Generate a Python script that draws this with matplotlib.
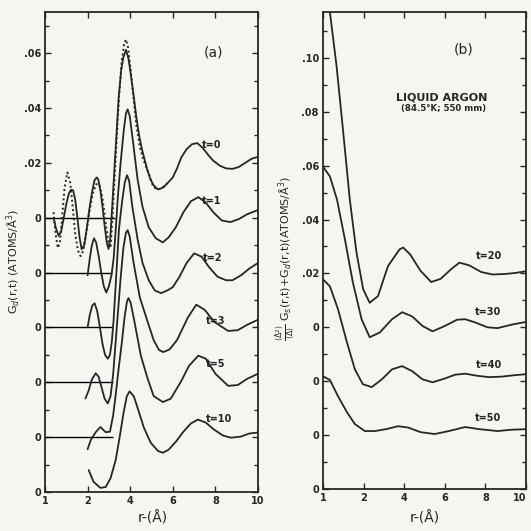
import matplotlib.pyplot as plt
from matplotlib.ticker import MultipleLocator

paper = '#f7f5ef'
ink = '#262626'

# ---------------- panel (a): G_d(r,t), curves shifted down by 0.02 each
times_a = ['t=0', 't=1', 't=2', 't=3', 't=5', 't=10']
offsets_a = [0.0, -0.02, -0.04, -0.06, -0.08, -0.10]

r_a0 = [0.40, 0.52, 0.64, 0.76, 0.88, 1.00, 1.12, 1.22, 1.32, 1.42, 1.52, 1.62, 1.72,
        1.84, 1.96, 2.08, 2.20, 2.32, 2.42, 2.50, 2.60, 2.70, 2.80, 2.90, 2.98, 3.06,
        3.18, 3.32, 3.46, 3.58, 3.68, 3.80, 3.92, 4.05, 4.17, 4.30, 4.42, 4.55, 4.65,
        4.80, 4.95, 5.10, 5.30, 5.55, 5.80, 6.00, 6.20, 6.40, 6.65, 6.90, 7.15, 7.40,
        7.65, 7.90, 8.20, 8.50, 8.80, 9.10, 9.40, 9.70, 10.0]
g_a0 = [0.000, -0.004, -0.0066, -0.005, 0.000, 0.005, 0.0088, 0.0102, 0.0100, 0.0065,
        0.000, -0.007, -0.0115, -0.010, -0.004, 0.003, 0.009, 0.0135, 0.0147, 0.0140,
        0.010, 0.004, -0.003, -0.009, -0.0114, -0.008, 0.0073, 0.0257, 0.044, 0.054,
        0.0585, 0.0612, 0.058, 0.051, 0.044, 0.036, 0.030, 0.025, 0.022, 0.0175, 0.014,
        0.0118, 0.0103, 0.011, 0.013, 0.0147, 0.018, 0.022, 0.025, 0.0268, 0.0272,
        0.0255, 0.023, 0.0208, 0.019, 0.018, 0.0178, 0.0185, 0.020, 0.0215, 0.0222]

# dotted t=0 curve
r_a0d = [0.40, 0.50, 0.60, 0.70, 0.80, 0.92, 1.05, 1.18, 1.30, 1.42, 1.55, 1.67, 1.80,
         1.95, 2.10, 2.25, 2.40, 2.55, 2.70, 2.85, 2.98, 3.08, 3.18, 3.32, 3.46, 3.60,
         3.72, 3.80, 3.90, 4.02, 4.15, 4.30, 4.45, 4.60, 4.75, 4.90, 5.05, 5.20, 5.40,
         5.60, 5.80]
g_a0d = [0.002, -0.006, -0.011, -0.009, 0.000, 0.011, 0.0165, 0.013, 0.004, -0.006,
         -0.012, -0.014, -0.012, -0.005, 0.003, 0.009, 0.0122, 0.0122, 0.007, -0.002,
         -0.009, -0.011, 0.002, 0.022, 0.042, 0.057, 0.0635, 0.065, 0.062, 0.054, 0.044,
         0.033, 0.026, 0.0215, 0.0185, 0.0155, 0.012, 0.0105, 0.0105, 0.0115, 0.013]

r_a1 = [2.00, 2.10, 2.20, 2.30, 2.40, 2.52, 2.64, 2.76, 2.88, 3.00, 3.12, 3.22, 3.32,
        3.42, 3.55, 3.70, 3.80, 3.88, 3.98, 4.12, 4.35, 4.58, 4.87, 5.20, 5.53, 5.80,
        6.14, 6.50, 6.85, 7.20, 7.55, 7.90, 8.30, 8.70, 9.10, 9.50, 10.0]
g_a1 = [-0.001, 0.005, 0.010, 0.0125, 0.011, 0.006, 0.000, -0.005, -0.0073, -0.005,
        -0.001, 0.005, 0.0154, 0.0275, 0.040, 0.052, 0.058, 0.0595, 0.057, 0.0484,
        0.0338, 0.0239, 0.0165, 0.0125, 0.011, 0.0128, 0.0165, 0.022, 0.026, 0.0275,
        0.0255, 0.022, 0.019, 0.0184, 0.0195, 0.0213, 0.0228]

r_a2 = [2.00, 2.10, 2.22, 2.33, 2.45, 2.58, 2.70, 2.82, 2.95, 3.05, 3.14, 3.22, 3.30,
        3.38, 3.47, 3.56, 3.65, 3.75, 3.85, 3.95, 4.10, 4.35, 4.58, 4.87, 5.15, 5.45,
        5.75, 6.00, 6.30, 6.65, 7.00, 7.35, 7.70, 8.10, 8.50, 8.80, 9.20, 9.60, 10.0]
g_a2 = [0.000, 0.0045, 0.0080, 0.0088, 0.006, 0.000, -0.006, -0.010, -0.0114, -0.010,
        -0.005, 0.0026, 0.013, 0.0235, 0.0356, 0.042, 0.0477, 0.053, 0.0555, 0.0535,
        0.044, 0.032, 0.0235, 0.0172, 0.0135, 0.0125, 0.0135, 0.0147, 0.0183, 0.0235,
        0.027, 0.0258, 0.022, 0.0185, 0.0172, 0.0172, 0.019, 0.0215, 0.0235]

r_a3 = [1.90, 2.05, 2.20, 2.38, 2.52, 2.66, 2.80, 2.95, 3.08, 3.20, 3.30, 3.42, 3.55,
        3.68, 3.80, 3.88, 3.98, 4.15, 4.45, 4.80, 5.10, 5.35, 5.55, 5.85, 6.20, 6.70,
        7.10, 7.50, 7.95, 8.60, 9.05, 9.50, 10.0]
g_a3 = [-0.0059, -0.003, 0.001, 0.0033, 0.002, -0.002, -0.006, -0.0077, -0.005, 0.003,
        0.013, 0.025, 0.038, 0.049, 0.0545, 0.0555, 0.053, 0.044, 0.031, 0.0225, 0.0154,
        0.0118, 0.011, 0.012, 0.0154, 0.0235, 0.0283, 0.0264, 0.022, 0.0187, 0.019,
        0.021, 0.0228]

r_a5 = [2.00, 2.15, 2.38, 2.60, 2.85, 3.05, 3.20, 3.32, 3.45, 3.60, 3.74, 3.85, 3.92,
        4.02, 4.17, 4.50, 4.82, 5.10, 5.53, 5.90, 6.38, 6.76, 7.20, 7.55, 8.00, 8.60,
        9.05, 9.50, 10.0]
g_a5 = [-0.0044, -0.001, 0.0018, 0.0037, 0.0018, 0.002, 0.008, 0.0155, 0.0245, 0.034,
        0.044, 0.0495, 0.0507, 0.049, 0.0433, 0.0297, 0.0213, 0.015, 0.0128, 0.014,
        0.0202, 0.026, 0.0297, 0.0286, 0.0231, 0.0187, 0.019, 0.0213, 0.0231]

r_a10 = [2.05, 2.28, 2.60, 2.85, 3.08, 3.32, 3.50, 3.70, 3.84, 3.97, 4.17, 4.40, 4.64,
         4.96, 5.30, 5.53, 5.80, 6.14, 6.50, 6.85, 7.18, 7.55, 7.93, 8.35, 8.73, 9.20,
         9.58, 10.0]
g_a10 = [0.008, 0.0037, 0.0015, 0.0018, 0.0051, 0.0117, 0.0198, 0.0294, 0.0349, 0.0367,
         0.0349, 0.0294, 0.0235, 0.018, 0.015, 0.0143, 0.0154, 0.0183, 0.022, 0.025,
         0.0264, 0.0253, 0.0228, 0.0206, 0.0198, 0.0202, 0.0213, 0.0217]

curves_a = [(r_a0, g_a0), (r_a1, g_a1), (r_a2, g_a2), (r_a3, g_a3), (r_a5, g_a5), (r_a10, g_a10)]

# ---------------- panel (b): <..> G_s + G_d
times_b = ['t=20', 't=30', 't=40', 't=50']
offsets_b = [0.0, -0.02, -0.04, -0.06]

r_b20 = [0.20, 0.34, 0.67, 1.00, 1.32, 1.65, 1.98, 2.30, 2.71, 3.20, 3.77, 3.95, 4.30,
         4.80, 5.33, 5.80, 6.30, 6.72, 7.20, 7.80, 8.35, 9.00, 9.50, 10.0]
g_b20 = [0.123, 0.117, 0.0968, 0.0721, 0.0474, 0.0277, 0.0141, 0.0091, 0.0116, 0.0227,
         0.0289, 0.0296, 0.027, 0.021, 0.0168, 0.018, 0.0215, 0.024, 0.023, 0.0205,
         0.0196, 0.0198, 0.0202, 0.0208]

r_b30 = [0.0, 0.34, 0.69, 1.08, 1.47, 1.90, 2.30, 2.80, 3.40, 3.90, 4.40, 4.90, 5.40,
         6.00, 6.60, 7.00, 7.50, 8.10, 8.60, 9.30, 10.0]
g_b30 = [0.0796, 0.076, 0.0674, 0.0526, 0.0367, 0.023, 0.0163, 0.0181, 0.023, 0.0256,
         0.024, 0.0205, 0.0185, 0.0205, 0.0228, 0.023, 0.0218, 0.020, 0.0197, 0.021, 0.022]

r_b40 = [0.0, 0.34, 0.74, 1.18, 1.57, 1.96, 2.40, 2.90, 3.40, 3.90, 4.40, 4.90, 5.40,
         6.00, 6.50, 7.00, 7.60, 8.20, 8.80, 9.40, 10.0]
g_b40 = [0.0578, 0.0552, 0.0467, 0.0344, 0.0244, 0.0189, 0.0178, 0.0207, 0.0244, 0.0256,
         0.0237, 0.0207, 0.0196, 0.021, 0.0224, 0.0228, 0.022, 0.0215, 0.0217, 0.0222,
         0.0226]

r_b50 = [0.0, 0.34, 0.74, 1.18, 1.57, 2.06, 2.55, 3.10, 3.70, 4.20, 4.80, 5.50, 6.20,
         7.00, 7.70, 8.60, 9.30, 10.0]
g_b50 = [0.0418, 0.0405, 0.0344, 0.0285, 0.0241, 0.0215, 0.0215, 0.0222, 0.0233, 0.0228,
         0.0211, 0.0204, 0.0215, 0.023, 0.0222, 0.0215, 0.022, 0.0222]

curves_b = [(r_b20, g_b20), (r_b30, g_b30), (r_b40, g_b40), (r_b50, g_b50)]

# ---------------- figure
fig = plt.figure(figsize=(5.31, 5.31), dpi=100, facecolor=paper)
W = 531.0
axa = fig.add_axes([45 / W, 1 - 492 / W, 213 / W, 480 / W])
axb = fig.add_axes([323 / W, 1 - 489 / W, 203 / W, 477 / W])

for ax in (axa, axb):
    ax.set_facecolor(paper)
    for s in ax.spines.values():
        s.set_linewidth(1.3)
        s.set_color(ink)
    ax.set_xlim(0, 10)
    ax.set_xticks([0, 2, 4, 6, 8, 10])
    ax.set_xticklabels(['1', '2', '4', '6', '8', '10'])
    ax.yaxis.set_minor_locator(MultipleLocator(0.01))
    ax.tick_params(which='both', direction='in', top=True, right=True, color=ink,
                   labelsize=7, pad=3, width=1.0)
    ax.tick_params(which='major', length=4)
    ax.tick_params(which='minor', length=3)
    for lab in ax.get_xticklabels() + ax.get_yticklabels():
        lab.set_fontweight('bold')
        lab.set_color(ink)
axb.get_xticklabels()[-1].set_ha('right')

# panel (a)
axa.set_ylim(-0.10, 0.075)
axa.set_yticks([0.06, 0.04, 0.02, 0.0, -0.02, -0.04, -0.06, -0.08, -0.10])
axa.set_yticklabels(['.06', '.04', '.02', '0', '0', '0', '0', '0', '0'],
                    fontweight='bold', color=ink)
axa.hlines(offsets_a[:-1], 0, [3.3, 3.15, 3.15, 3.2, 3.2], color='black', lw=1.0)
for (r, g), off in zip(curves_a, offsets_a):
    axa.plot(r, [v + off for v in g], color=ink, lw=1.3, solid_capstyle='round')
axa.plot(r_a0d, g_a0d, color=ink, lw=1.4, ls=(0, (1, 1.4)))

lab_pos_a = [(7.35, 0.0264), (7.35, 0.0062), (7.4, -0.0147), (7.55, -0.0378),
             (7.55, -0.0532), (7.55, -0.0734)]
for name, (x, y) in zip(times_a, lab_pos_a):
    axa.text(x, y, name, fontsize=7, fontweight='bold', color=ink, ha='left', va='center')
axa.text(7.9, 0.0602, '(a)', fontsize=10, color=ink, ha='center', va='center')

# panel (b)
axb.set_ylim(-0.06, 0.117)
axb.set_yticks([0.10, 0.08, 0.06, 0.04, 0.02, 0.0, -0.02, -0.04, -0.06])
axb.set_yticklabels(['.10', '.08', '.06', '.04', '.02', '0', '0', '0', '0'],
                    fontweight='bold', color=ink)
for (r, g), off in zip(curves_b, offsets_b):
    axb.plot(r, [v + off for v in g], color=ink, lw=1.3, solid_capstyle='round')

lab_pos_b = [(7.55, 0.0263), (7.5, 0.0056), (7.55, -0.0141), (7.5, -0.0337)]
for name, (x, y) in zip(times_b, lab_pos_b):
    axb.text(x, y, name, fontsize=7, fontweight='bold', color=ink, ha='left', va='center')
axb.text(6.95, 0.103, '(b)', fontsize=10, color=ink, ha='center', va='center')
axb.text(5.85, 0.0852, 'LIQUID ARGON', fontsize=8, fontweight='bold', color=ink,
         ha='center', va='center')
axb.text(5.95, 0.0812, '(84.5°K; 550 mm)', fontsize=6.2, fontweight='bold', color=ink,
         ha='center', va='center')

# axis titles
fig.text(153 / W, 1 - 518 / W, 'r-(Å)', fontsize=10, color=ink, ha='center', va='center')
fig.text(425 / W, 1 - 518 / W, 'r-(Å)', fontsize=10, color=ink, ha='center', va='center')
fig.text(13 / W, 1 - 262 / W, 'G$_d$(r,t) (ATOMS/Å$^3$)', fontsize=8, color=ink,
         rotation=90, ha='center', va='center')
fig.text(286 / W, 1 - 258 / W,
         r'$\frac{\langle\Delta^2\rangle}{\langle\Delta\rangle}$ G$_s$(r,t)+G$_d$(r,t)(ATOMS/Å$^3$)',
         fontsize=8, color=ink, rotation=90, ha='center', va='center')

fig.savefig('out.png', dpi=100, facecolor=paper)
